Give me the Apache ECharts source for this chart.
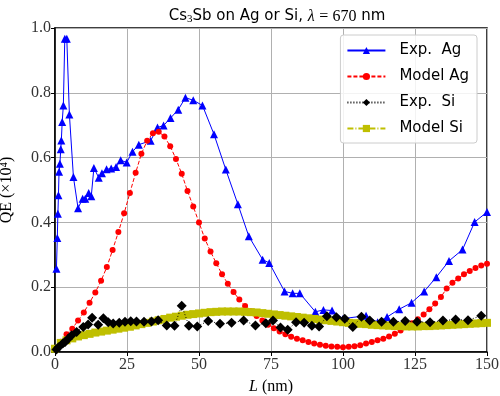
<!DOCTYPE html>
<html><head><meta charset="utf-8">
<script src="https://cdn.jsdelivr.net/npm/echarts@6/dist/echarts.min.js"></script>
<style>html,body{margin:0;padding:0;background:#fff}#c{width:500px;height:396px}</style>
</head><body><div id="c"></div>
<script>
var xTicks = [0, 25, 50, 75, 100, 125, 150];
var yTicks = [0.0, 0.2, 0.4, 0.6, 0.8, 1.0];

var expAgL = [0.5,0.8,1.0,1.2,1.4,1.7,2.0,2.2,2.5,2.9,3.4,4.1,5.0,6.4,8.0,9.6,10.5,11.7,12.6,13.5,15.2,16.3,17.9,19.5,21.2,22.8,24.9,26.9,29.1,33.2,35.6,37.7,40.1,42.8,45.3,48.0,51.2,55.2,59.3,63.5,67.3,72.1,74.4,79.7,82.5,85.0,90.4,93.2,96.2,100,108,112,115.3,119.5,123.8,128.2,132.4,136.8,141.5,145.7,150];
var expAgQE = [0.257,0.352,0.427,0.484,0.556,0.581,0.626,0.653,0.71,0.761,0.967,0.967,0.733,0.54,0.444,0.473,0.473,0.491,0.481,0.568,0.538,0.552,0.564,0.566,0.571,0.592,0.585,0.618,0.64,0.652,0.693,0.699,0.722,0.748,0.785,0.777,0.761,0.672,0.563,0.456,0.357,0.285,0.275,0.187,0.181,0.181,0.124,0.13,0.128,0.103,0.112,0.092,0.108,0.132,0.152,0.187,0.231,0.281,0.316,0.401,0.432];

var modelL = [0,2,4,6,8,10,12,14,16,18,20,22,24,26,28,30,32,34,36,38,40,42,44,46,48,50,52,54,56,58,60,62,64,66,68,70,72,74,76,78,80,82,84,86,88,90,92,94,96,98,100,102,104,106,108,110,112,114,116,118,120,122,124,126,128,130,132,134,136,138,140,142,144,146,148,150];
var modelAgQE = [0.012,0.032,0.055,0.072,0.097,0.122,0.152,0.184,0.220,0.262,0.315,0.370,0.428,0.491,0.553,0.612,0.652,0.675,0.680,0.665,0.635,0.596,0.550,0.497,0.449,0.400,0.350,0.310,0.274,0.240,0.211,0.185,0.162,0.142,0.126,0.111,0.097,0.084,0.073,0.063,0.055,0.047,0.041,0.036,0.031,0.026,0.022,0.019,0.017,0.016,0.015,0.016,0.018,0.021,0.026,0.031,0.036,0.041,0.048,0.056,0.066,0.077,0.089,0.101,0.116,0.132,0.150,0.170,0.196,0.214,0.227,0.240,0.250,0.259,0.267,0.272];
var modelSiQE = [0.010,0.028,0.036,0.042,0.048,0.052,0.056,0.060,0.063,0.066,0.069,0.072,0.075,0.078,0.082,0.086,0.090,0.094,0.098,0.102,0.106,0.109,0.112,0.115,0.117,0.119,0.121,0.123,0.124,0.125,0.125,0.125,0.125,0.124,0.123,0.122,0.120,0.118,0.116,0.114,0.112,0.110,0.108,0.106,0.104,0.102,0.100,0.098,0.096,0.094,0.092,0.090,0.089,0.087,0.086,0.084,0.083,0.082,0.081,0.080,0.080,0.079,0.079,0.079,0.080,0.080,0.081,0.082,0.083,0.084,0.085,0.086,0.087,0.088,0.089,0.090];

var expSiL = [0.5,1.2,2.7,3.5,4.5,5.8,7.5,9.8,11.5,12.9,15,16.8,18.5,20.2,22.3,24.3,26.3,28.3,30.9,33.5,35.8,38.8,41.5,44,46.5,49.4,53.2,57.3,61.3,65.5,69.6,73.2,75.7,78.3,80.8,83.7,86.5,89.2,91.7,94.4,97.7,100.6,103.4,106.4,109.3,113.4,117.5,121.6,125.7,130.2,134.7,139.1,143.4,148];
var expSiQE = [0.008,0.015,0.026,0.031,0.04,0.052,0.062,0.077,0.085,0.106,0.084,0.104,0.092,0.088,0.09,0.093,0.095,0.094,0.093,0.094,0.098,0.082,0.081,0.143,0.081,0.079,0.096,0.087,0.09,0.097,0.082,0.089,0.097,0.076,0.069,0.092,0.09,0.081,0.079,0.11,0.107,0.103,0.077,0.109,0.097,0.093,0.093,0.096,0.093,0.092,0.097,0.1,0.098,0.112];

function zip(a, b) { return a.map(function (v, i) { return [v, b[i]]; }); }

var serif = '"Liberation Serif", "DejaVu Serif", serif';
var sans = '"DejaVu Sans", "Liberation Sans", sans-serif';

var chart = echarts.init(document.getElementById('c'), null, {renderer: 'canvas'});
chart.setOption({
  animation: false,
  backgroundColor: '#fff',
  title: {
    text: 'Cs{sub|3}Sb on Ag or Si, {it|λ} {sf|= 670} nm',
    left: 272, top: 3, textAlign: 'center',
    textStyle: {
      fontFamily: sans, fontSize: 15, fontWeight: 'normal', color: '#000',
      rich: {
        sub: {fontFamily: serif, fontSize: 11, verticalAlign: 'bottom', padding: [6, 0, 0, 0]},
        it: {fontFamily: serif, fontStyle: 'italic', fontSize: 16},
        sf: {fontFamily: serif, fontSize: 16}
      }
    }
  },
  grid: {left: 55, right: 13, top: 28, bottom: 44, outerBoundsMode: 'none', containLabel: false,
    show: true, borderColor: '#000', borderWidth: 1.5, backgroundColor: 'transparent'},
  legend: {
    right: 23, top: 35, orient: 'vertical', itemWidth: 38, itemHeight: 9, itemGap: 11,
    padding: [8, 8, 7, 6],
    backgroundColor: 'rgba(255,255,255,0.85)', borderColor: '#cccccc', borderWidth: 1, borderRadius: 3,
    textStyle: {fontFamily: sans, fontSize: 15, color: '#000', padding: [0, 0, 0, 9]},
    data: ['Exp.  Ag', 'Model Ag', 'Exp.  Si', 'Model Si']
  },
  xAxis: {
    type: 'value', min: 0, max: 150, interval: 25,
    name: '{it|L} (nm)', nameLocation: 'middle', nameGap: 27,
    nameTextStyle: {fontFamily: serif, fontSize: 16, color: '#000', rich: {it: {fontFamily: serif, fontStyle: 'italic', fontSize: 16}}},
    axisLine: {show: true, lineStyle: {color: '#000', width: 1.5}},
    axisTick: {show: true, inside: false, length: 4, lineStyle: {color: '#000'}},
    axisLabel: {fontFamily: serif, fontSize: 16, color: '#333', margin: 5,
      formatter: function (v) { return xTicks.indexOf(v) >= 0 ? String(v) : ''; }},
    splitLine: {show: true, lineStyle: {color: '#b0b0b0', width: 1}}
  },
  yAxis: {
    type: 'value', min: 0, max: 1, interval: 0.2,
    name: 'QE (×10⁴)', nameLocation: 'middle', nameGap: 40, nameRotate: 90,
    nameTextStyle: {fontFamily: serif, fontSize: 16, color: '#000'},
    axisLine: {show: true, lineStyle: {color: '#000', width: 1.5}},
    axisTick: {show: true, inside: false, length: 4, lineStyle: {color: '#000'}},
    axisLabel: {fontFamily: serif, fontSize: 16, color: '#333', margin: 4,
      formatter: function (v) { var t = yTicks.filter(function (y) { return Math.abs(y - v) < 1e-9; }); return t.length ? t[0].toFixed(1) : ''; }},
    splitLine: {show: true, lineStyle: {color: '#b0b0b0', width: 1}}
  },
  series: [
    {
      name: 'Exp.  Ag', type: 'line', data: zip(expAgL, expAgQE),
      symbol: 'triangle', symbolSize: 8, showAllSymbol: true,
      lineStyle: {color: '#0000ff', width: 1}, itemStyle: {color: '#0000ff'}, z: 2
    },
    {
      name: 'Model Ag', type: 'line', data: zip(modelL, modelAgQE),
      symbol: 'circle', symbolSize: 6, showAllSymbol: true,
      lineStyle: {color: '#ff0000', width: 1, type: [4, 2]}, itemStyle: {color: '#ff0000'}, z: 3
    },
    {
      name: 'Model Si', type: 'line', data: zip(modelL, modelSiQE),
      symbol: 'rect', symbolSize: 8, showAllSymbol: true,
      lineStyle: {color: '#bfbf00', width: 1, type: [6, 2, 1, 2]}, itemStyle: {color: '#bfbf00'}, z: 4
    },
    {
      name: 'Exp.  Si', type: 'line', data: zip(expSiL, expSiQE),
      symbol: 'diamond', symbolSize: 10, showAllSymbol: true,
      lineStyle: {color: '#000', width: 1, type: [1, 2]}, itemStyle: {color: '#000'}, z: 5
    }
  ]
});
</script></body></html>
